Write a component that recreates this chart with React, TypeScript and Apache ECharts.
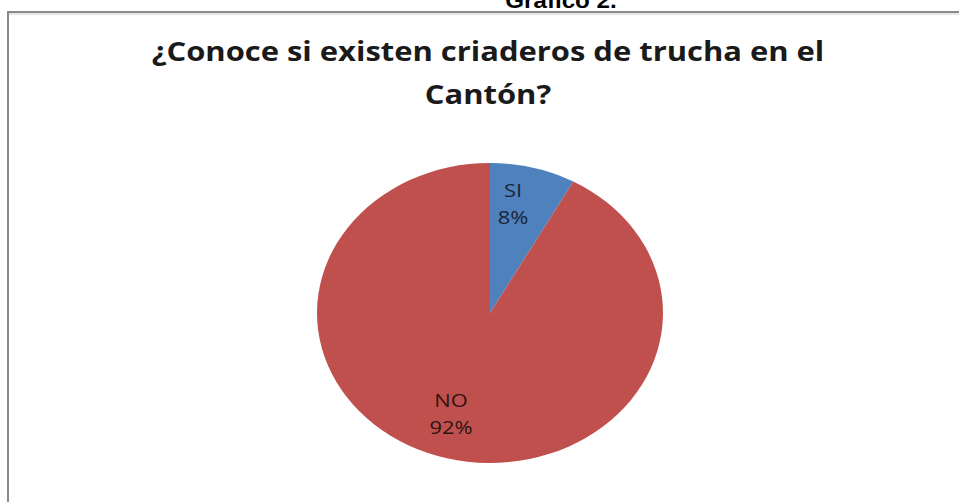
import React, { useEffect, useRef } from "react";
import * as echarts from "echarts";

const categories = ["SI", "NO"];
const values = [8, 92];
const sliceColors = ["#4F81BD", "#C0504D"];
const labelColors = ["#1b2436", "#2e1414"];
const caption = "Gráfico 2.";
const titleLines = ["¿Conoce si existen criaderos de trucha en el", "Cantón?"];

export default function App() {
  const ref = useRef<HTMLDivElement>(null);
  useEffect(() => {
    if (!ref.current) return;
    const chart = echarts.init(ref.current, undefined, { renderer: "svg" });
    const total = values.reduce((a, b) => a + b, 0);
    const CX = 490;
    const CY = 313;
    const RX = 173;
    const RY = 150;
    const option: any = {
      animation: false,
      backgroundColor: "#ffffff",
      graphic: [
        {
          type: "rect",
          shape: { x: 8, y: 12, width: 1000, height: 600 },
          style: { fill: "none", stroke: "#8a8a8a", lineWidth: 2 },
          z: 1,
        },
        {
          type: "line",
          shape: { x1: 9, y1: 14, x2: 959, y2: 14 },
          style: { stroke: "#e6e6e6", lineWidth: 2 },
          z: 1,
        },
        {
          type: "text",
          x: 561,
          y: 0,
          scaleX: 1.1,
          style: {
            text: caption,
            textAlign: "center",
            textVerticalAlign: "middle",
            fontFamily: "Liberation Sans, Arial, sans-serif",
            fontWeight: "bold",
            fontSize: 22,
            fill: "#000000",
          },
        },
        ...titleLines.map((t, i) => ({
          type: "text",
          x: 488,
          y: 51 + i * 43,
          scaleX: 1.19,
          style: {
            text: t,
            textAlign: "center",
            textVerticalAlign: "middle",
            fontFamily: "Open Sans, sans-serif",
            fontWeight: "bold",
            fontSize: 26,
            fill: "#1a1a1a",
          },
        })),
      ],
      series: [
        {
          type: "custom",
          coordinateSystem: "none",
          data: values.map((v, i) => ({ name: categories[i], value: v })),
          renderItem: (params: any, api: any) => {
            const idx = params.dataIndex;
            const v = api.value(0);
            let before = 0;
            for (let k = 0; k < idx; k++) before += values[k];
            const a0 = -Math.PI / 2 + (before / total) * Math.PI * 2;
            const a1 = a0 + (v / total) * Math.PI * 2;
            const mid = (a0 + a1) / 2;
            const f = 0.72;
            const pct = Math.round((v / total) * 100) + "%";
            return {
              type: "group",
              children: [
                {
                  type: "sector",
                  x: CX,
                  y: CY,
                  scaleY: RY / RX,
                  shape: { cx: 0, cy: 0, r: RX, r0: 0, startAngle: a0, endAngle: a1, clockwise: true },
                  style: { fill: sliceColors[idx], stroke: "none" },
                },
                {
                  type: "text",
                  x: CX + f * RX * Math.cos(mid) - 8,
                  y: CY + f * RY * Math.sin(mid) - 5,
                  scaleX: 1.15,
                  z2: 20,
                  style: {
                    text: categories[idx] + "\n" + pct,
                    textAlign: "center",
                    textVerticalAlign: "middle",
                    fontFamily: "Open Sans, sans-serif",
                    fontSize: 19,
                    lineHeight: 27,
                    fill: labelColors[idx],
                  },
                },
              ],
            };
          },
        },
      ],
    };
    chart.setOption(option);
    return () => chart.dispose();
  }, []);
  return (
    <div
      ref={ref}
      style={{ position: "absolute", left: 0, top: 0, width: 959, height: 502, background: "#fff" }}
    />
  );
}
